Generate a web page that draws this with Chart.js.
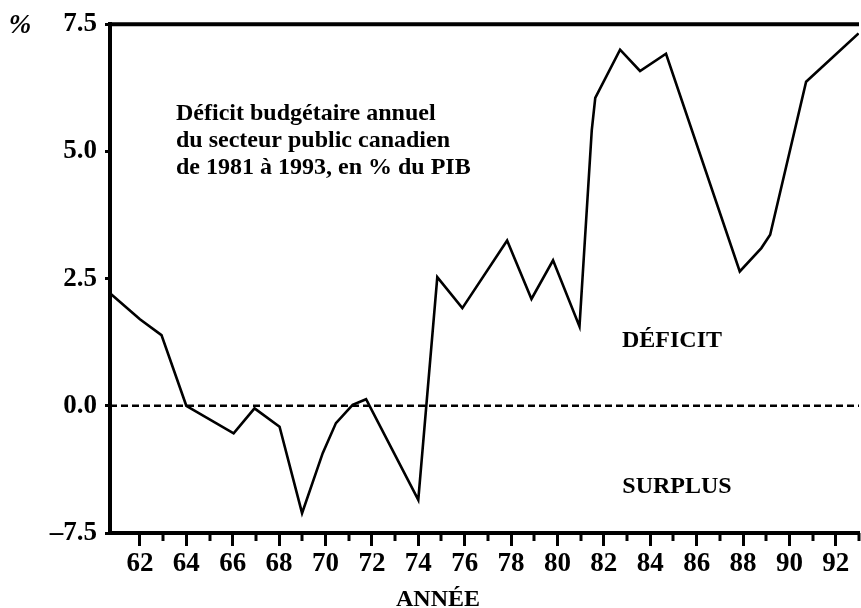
<!DOCTYPE html>
<html lang="fr">
<head>
<meta charset="utf-8">
<title>Déficit budgétaire annuel</title>
<script src="https://cdn.jsdelivr.net/npm/chart.js@4.4.1/dist/chart.umd.min.js"></script>
<style>
    html, body { margin: 0; padding: 0; background: #fff; }
    #wrap { width: 861px; height: 608px; }
</style>
</head>
<body>
<div id="wrap"><canvas id="myChart" width="861" height="608"></canvas></div>
<script>
/*-----------------------------Data-------------------------------------------------*/
let years = [60.71, 62, 62.93, 64, 66.04, 66.94, 68.02, 68.99, 69.88, 70.45, 71.17, 71.75,
    74.0, 74.82, 75.9, 77.83, 78.88, 79.81, 80.95, 81.48, 81.63, 82.7, 83.56, 84.68,
    87.86, 88.79, 89.17, 90.72, 92.98];
let deficit = [2.21, 1.70, 1.39, 0.0, -0.54, -0.05, -0.41, -2.11, -0.93, -0.34, 0.02, 0.13,
    -1.85, 2.53, 1.92, 3.25, 2.10, 2.86, 1.56, 5.42, 6.05, 7.0, 6.58, 6.92,
    2.64, 3.10, 3.36, 6.37, 7.32];
let yTickValues = [-2.5, 0, 2.5, 5, 7.5];
let yTickLabels = ['\u20137.5', '0.0', '2.5', '5.0', '7.5'];
let xMin = 60.71, xMax = 93;
let titleLines = ['Déficit budgétaire annuel', 'du secteur public canadien', 'de 1981 à 1993, en % du PIB'];

let serif = "'Liberation Serif', 'Times New Roman', serif";

/*-----------------------------Frame + labels plugin-------------------------------------------------*/
let framePlugin = {
    id: 'frame',
    afterDraw: function (chart) {
        let ctx = chart.ctx;
        let area = chart.chartArea;
        let x = chart.scales.x;
        ctx.save();
        // top line
        ctx.strokeStyle = '#000';
        ctx.lineWidth = 4;
        ctx.beginPath();
        ctx.moveTo(area.left - 2, area.top);
        ctx.lineTo(area.right, area.top);
        ctx.stroke();
        // minor ticks (odd years)
        ctx.lineWidth = 3;
        x.ticks.forEach(function (t) {
            if (Math.round(t.value) % 2 !== 0) {
                let px = Math.round(x.getPixelForValue(t.value));
                ctx.beginPath();
                ctx.moveTo(px, area.bottom);
                ctx.lineTo(px, area.bottom + 8);
                ctx.stroke();
            }
        });
        // texts
        ctx.fillStyle = '#000';
        ctx.textBaseline = 'alphabetic';
        ctx.font = 'bold 24px ' + serif;
        ctx.textAlign = 'left';
        titleLines.forEach(function (line, i) {
            ctx.fillText(line, 176, 120 + i * 27);
        });
        ctx.textAlign = 'center';
        ctx.fillText('DÉFICIT', 672, 347);
        ctx.fillText('SURPLUS', 677, 493);
        ctx.fillText('ANNÉE', 438, 606);
        ctx.font = 'italic bold 27px ' + serif;
        ctx.fillText('%', 20, 33);
        ctx.restore();
    }
};

/*-----------------------------Chart-------------------------------------------------*/
let myChart = document.getElementById('myChart').getContext('2d');

let deficitChart = new Chart(myChart, {
    type: 'line',
    data: {
        datasets: [{
            label: 'Déficit',
            data: years.map(function (yr, i) { return { x: yr, y: deficit[i] }; }),
            borderColor: '#000',
            borderWidth: 2.6,
            pointRadius: 0,
            tension: 0,
            fill: false
        }, {
            label: 'zéro',
            data: [{ x: xMin, y: 0 }, { x: xMax, y: 0 }],
            borderColor: '#000',
            borderWidth: 2.5,
            borderDash: [7, 4],
            pointRadius: 0,
            fill: false
        }]
    },
    options: {
        responsive: false,
        animation: false,
        devicePixelRatio: 1,
        layout: { padding: { top: 23, right: 0, left: 0, bottom: 0 } },
        plugins: {
            legend: { display: false },
            tooltip: { enabled: false },
            title: { display: false }
        },
        scales: {
            x: {
                type: 'linear',
                min: xMin,
                max: xMax,
                afterBuildTicks: function (scale) {
                    scale.ticks = scale.ticks.filter(function (t) {
                        return Math.abs(t.value - Math.round(t.value)) < 1e-6;
                    });
                },
                afterFit: function (scale) { scale.height = 75; },
                ticks: {
                    stepSize: 1,
                    autoSkip: false,
                    maxRotation: 0,
                    padding: 2,
                    color: '#000',
                    font: { family: serif, size: 27, weight: 'bold' },
                    callback: function (v) {
                        let n = Math.round(v);
                        return n % 2 === 0 ? String(n) : '';
                    }
                },
                grid: {
                    display: true,
                    drawOnChartArea: false,
                    drawTicks: true,
                    tickLength: 13,
                    tickWidth: 3,
                    tickColor: function (c) {
                        return c.tick && Math.round(c.tick.value) % 2 === 0 ? '#000' : 'rgba(0,0,0,0)';
                    }
                },
                border: { display: true, color: '#000', width: 4 }
            },
            y: {
                min: -2.5,
                max: 7.5,
                afterBuildTicks: function (scale) {
                    scale.ticks = yTickValues.map(function (v) { return { value: v }; });
                },
                afterFit: function (scale) { scale.width = 110; },
                ticks: {
                    padding: 8,
                    color: '#000',
                    font: { family: serif, size: 27, weight: 'bold' },
                    callback: function (v) {
                        return yTickLabels[yTickValues.indexOf(v)];
                    }
                },
                grid: {
                    display: true,
                    drawOnChartArea: false,
                    drawTicks: true,
                    tickLength: 5,
                    tickWidth: 3,
                    tickColor: '#000'
                },
                border: { display: true, color: '#000', width: 4 }
            }
        }
    },
    plugins: [framePlugin]
});
</script>
</body>
</html>
